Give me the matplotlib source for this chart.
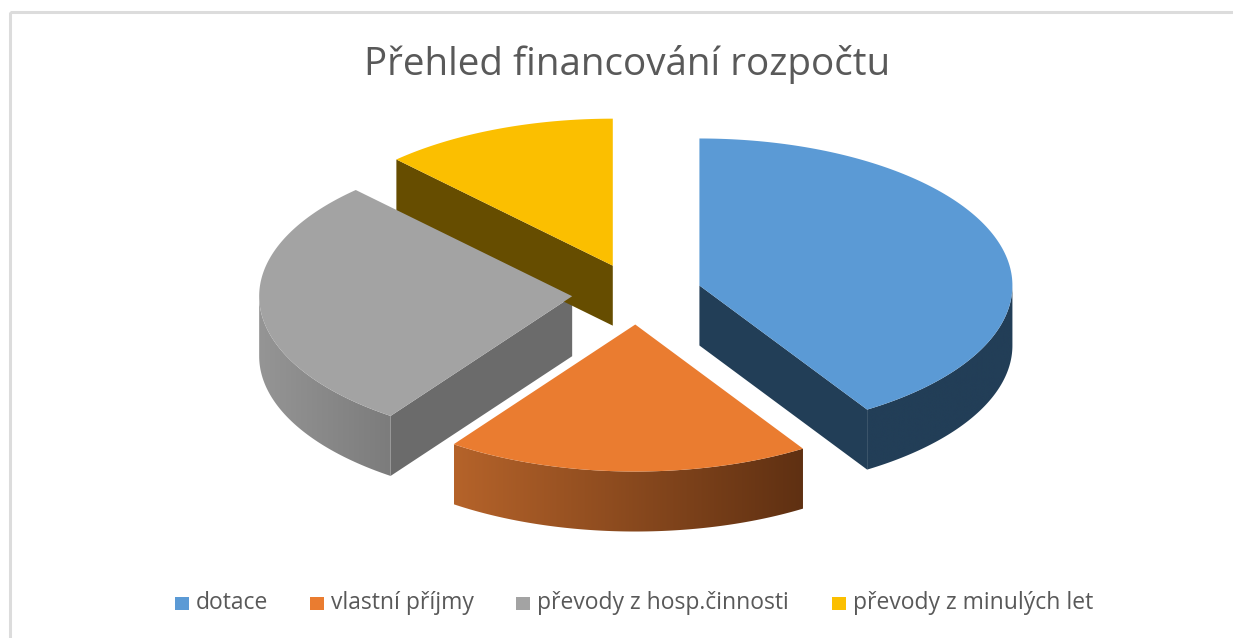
import numpy as np
import matplotlib
matplotlib.use("Agg")
import matplotlib.pyplot as plt
from matplotlib.patches import Polygon, Rectangle
from matplotlib.colors import LinearSegmentedColormap

title = "Přehled financování rozpočtu"
labels = ["dotace", "vlastní příjmy", "převody z hosp.činnosti", "převody z minulých let"]
shares = [41.0, 18.85, 28.0, 12.15]
top_colors = ["#5b9ad5", "#ea7c30", "#a3a3a3", "#fbbf00"]
cut_colors = ["#223e57", "#5f3012", "#6b6b6b", "#664d00"]
rim_left = ["#223e57", "#b5632a", "#959595", "#664d00"]
rim_right = ["#223e57", "#5f3012", "#7c7c7c", "#664d00"]
legend_x = [175, 310, 516, 832]

W, H = 1233, 638
cx, cy = 637, 294
a, b = 313, 147
explode = 65
depth = 60

fig = plt.figure(figsize=(W / 100, H / 100), dpi=100)
ax = fig.add_axes([0, 0, 1, 1])
ax.axis("off")


def rim_point(t, ox, oy):
    return ox + a * np.sin(t), oy - b * np.cos(t)


def draw_cut(i, edge, ox, oy):
    ex, ey = rim_point(edge, ox, oy)
    ax.add_patch(Polygon([(ox, oy), (ex, ey), (ex, ey + depth), (ox, oy + depth)],
                         closed=True, fc=cut_colors[i], ec="none", zorder=2))


def draw_slice(i, start, end):
    mid = (start + end) / 2
    ox = cx + explode * np.sin(mid)
    oy = cy - explode * b / a * np.cos(mid)
    t = np.linspace(start, end, 150)
    xs, ys = rim_point(t, ox, oy)

    # cut faces, only the ones turned to the viewer
    if np.sin(start) < -1e-6:
        draw_cut(i, start, ox, oy)
    if np.sin(end) > 1e-6:
        draw_cut(i, end, ox, oy)

    # outer wall, lower half of the ellipse only
    lo = max(start, np.pi / 2)
    hi = min(end, 3 * np.pi / 2)
    if hi > lo:
        tr = np.linspace(lo, hi, 150)
        rx, ry = rim_point(tr, ox, oy)
        pts = np.r_[np.c_[rx, ry], np.c_[rx[::-1], ry[::-1] + depth]]
        wall = Polygon(pts, closed=True, fc="none", ec="none")
        ax.add_patch(wall)
        cmap = LinearSegmentedColormap.from_list("w", [rim_left[i], rim_right[i]])
        grad = np.linspace(0, 1, 256).reshape(1, -1)
        im = ax.imshow(grad, cmap=cmap, aspect="auto", zorder=3,
                       extent=[rx.min(), rx.max(), ry.max() + depth, ry.min()])
        im.set_clip_path(wall)

    ax.add_patch(Polygon(np.r_[[(ox, oy)], np.c_[xs, ys]], closed=True,
                         fc=top_colors[i], ec="none", zorder=4))


angles = np.r_[0, np.cumsum(shares)] / sum(shares) * 2 * np.pi
for i in range(len(shares)):
    draw_slice(i, angles[i], angles[i + 1])

# frame of the pasted chart
ax.add_patch(Rectangle((9.5, 11.5), W + 20, H + 20, fc="none", ec="#dcdcdc", lw=2.2, zorder=1))

ax.text(627.5, 75, title, ha="center", va="baseline", fontsize=27.8, color="#595959",
        family="Open Sans")

for x, lab, col in zip(legend_x, labels, top_colors):
    ax.add_patch(Rectangle((x, 597), 13.5, 13, fc=col, ec="none"))
    ax.text(x + 21, 609, lab, ha="left", va="baseline", fontsize=16.5, color="#595959",
            family="Open Sans")

ax.set_xlim(0, W)
ax.set_ylim(H, 0)
fig.savefig("out.png", dpi=100, facecolor="white")
